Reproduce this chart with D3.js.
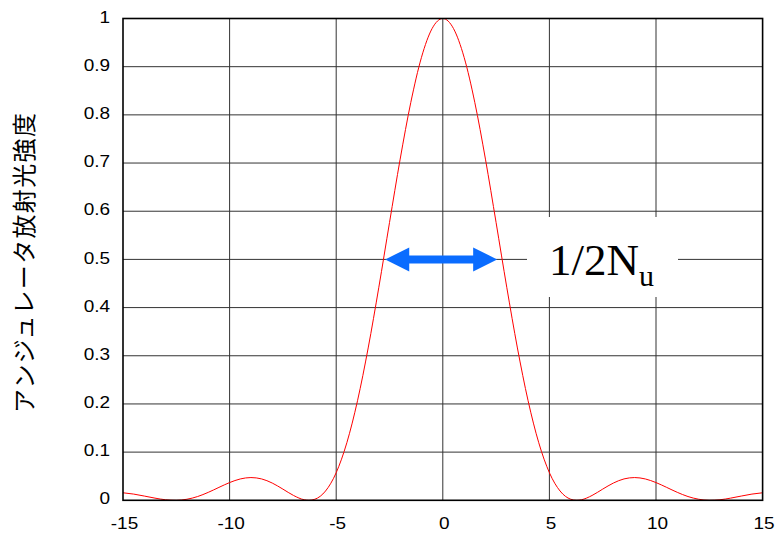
<!DOCTYPE html>
<html><head><meta charset="utf-8">
<script src="https://cdn.jsdelivr.net/npm/d3@7"></script>
<style>body{margin:0;background:#fff}svg{display:block}</style>
</head><body>
<script>
const xValues = [-15,-14.5,-14,-13.5,-13,-12.5,-12,-11.5,-11,-10.5,-10,-9.5,-9,-8.5,-8,-7.5,-7,-6.5,-6.28,-6,-5.5,-5,-4.5,-4,-3.5,-3,-2.5,-2,-1.5,-1,-0.5,0,0.5,1,1.5,2,2.5,3,3.5,4,4.5,5,5.5,6,6.28,6.5,7,7.5,8,8.5,9,9.5,10,10.5,11,11.5,12,12.5,13,13.5,14,14.5,15];
const intensity = [0.0156,0.0129,0.0088,0.0045,0.0011,0.0000,0.0022,0.0078,0.0165,0.0268,0.0368,0.0443,0.0472,0.0444,0.0358,0.0232,0.0100,0.0011,0.0000,0.0022,0.0193,0.0573,0.1196,0.2067,0.3162,0.4422,0.5764,0.7081,0.8260,0.9194,0.9793,1.0000,0.9793,0.9194,0.8260,0.7081,0.5764,0.4422,0.3162,0.2067,0.1196,0.0573,0.0193,0.0022,0.0000,0.0011,0.0100,0.0232,0.0358,0.0444,0.0472,0.0443,0.0368,0.0268,0.0165,0.0078,0.0022,0.0000,0.0011,0.0045,0.0088,0.0129,0.0156];
const xTicks = [-15,-10,-5,0,5,10,15];
const yTicks = [0,0.1,0.2,0.3,0.4,0.5,0.6,0.7,0.8,0.9,1];
const yLabel = "アンジュレータ放射光強度";
const arrowXs = [-2.7, 2.55];
const arrowLevel = 0.5;
const annotation = "1/2N";
const annotationSub = "u";

const W = 776, H = 533;
const m = {left:123, right:13.4, top:18.5, bottom:32.7};
const svg = d3.select("body").append("svg").attr("width", W).attr("height", H);
const x = d3.scaleLinear().domain([-15,15]).range([m.left, W - m.right]);
const y = d3.scaleLinear().domain([0,1]).range([H - m.bottom, m.top]);
const SX = 1.15, FS = 16.5;
const tickFont = "Liberation Sans, Arial, sans-serif";

const g = svg.append("g");
g.selectAll("line.h").data(yTicks.slice(1,-1)).join("line")
  .attr("x1", m.left).attr("x2", W - m.right)
  .attr("y1", d => y(d)).attr("y2", d => y(d))
  .attr("stroke", "#333").attr("stroke-width", 1);
g.selectAll("line.v").data(xTicks.slice(1,-1)).join("line")
  .attr("y1", m.top).attr("y2", H - m.bottom)
  .attr("x1", d => x(d)).attr("x2", d => x(d))
  .attr("stroke", "#333").attr("stroke-width", 1);

const yAxis = d3.axisLeft(y).tickValues(yTicks).tickSize(0).tickPadding(13).tickFormat(d => String(d));
const ya = svg.append("g").attr("transform", `translate(${m.left},0)`).call(yAxis);
ya.select(".domain").remove();
ya.selectAll("text").attr("font-family", tickFont).attr("font-size", FS).attr("fill", "#000")
  .attr("x", -13 / SX).attr("dy", "0.22em").attr("transform", `scale(${SX},1)`);

const xAxis = d3.axisBottom(x).tickValues(xTicks).tickSize(0).tickPadding(17).tickFormat(d => String(d));
const xa = svg.append("g").attr("transform", `translate(0,${H - m.bottom})`).call(xAxis);
xa.select(".domain").remove();
xa.selectAll("text").attr("font-family", tickFont).attr("font-size", FS).attr("fill", "#000")
  .attr("x", 1 / SX).attr("transform", `scale(${SX},1)`);

const pts = xValues.map((v,i) => [v, intensity[i]]);
svg.append("path").datum(pts)
  .attr("d", d3.line().x(d => x(d[0])).y(d => y(d[1])).curve(d3.curveMonotoneX))
  .attr("fill", "none").attr("stroke", "#ff0000").attr("stroke-width", 1);

svg.append("rect").attr("x", m.left).attr("y", m.top)
  .attr("width", W - m.left - m.right).attr("height", H - m.top - m.bottom)
  .attr("fill", "none").attr("stroke", "#000").attr("stroke-width", 1.6);

const ly = y(arrowLevel);
svg.append("rect").attr("x", 527).attr("y", 217).attr("width", 151).attr("height", 80).attr("fill", "#fff");
const t = svg.append("text").attr("x", 549).attr("y", 275)
  .attr("font-family", "Liberation Serif, Times New Roman, serif").attr("font-size", 45).attr("fill", "#000");
t.append("tspan").text(annotation);
t.append("tspan").attr("font-size", 30).attr("dy", 11).text(annotationSub);

const x1 = x(arrowXs[0]), x2 = x(arrowXs[1]);
const hl = 24, hh = 12, bh = 4;
const arrowPath = `M${x1},${ly} L${x1+hl},${ly-hh} L${x1+hl},${ly-bh} L${x2-hl},${ly-bh} L${x2-hl},${ly-hh} L${x2},${ly} L${x2-hl},${ly+hh} L${x2-hl},${ly+bh} L${x1+hl},${ly+bh} L${x1+hl},${ly+hh} Z`;
svg.append("path").attr("d", arrowPath).attr("fill", "#0a6cff");

svg.append("text")
  .attr("transform", `translate(33,263) rotate(-90)`)
  .attr("text-anchor", "middle")
  .attr("font-family", "Noto Sans CJK JP, sans-serif").attr("font-size", 24)
  .attr("textLength", 300).attr("lengthAdjust", "spacing")
  .attr("fill", "#000").text(yLabel);
</script>
</body></html>
